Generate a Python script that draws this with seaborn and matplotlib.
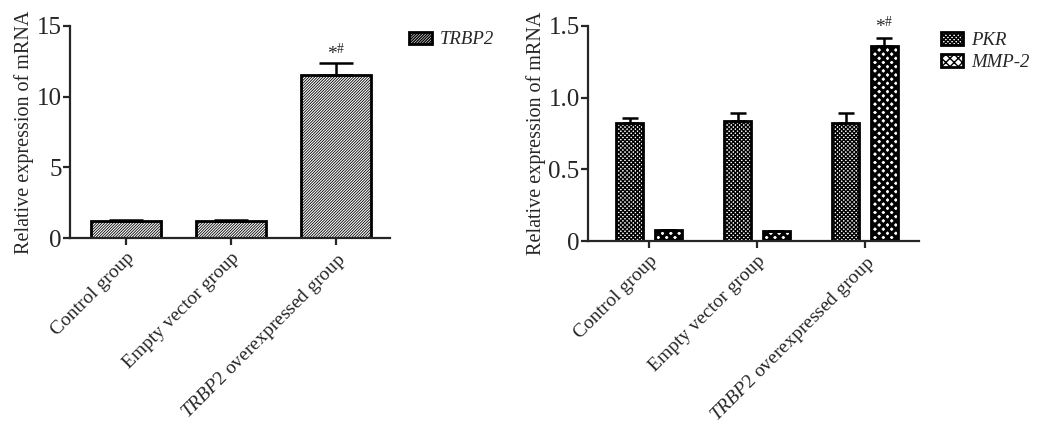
import matplotlib
matplotlib.use("Agg")
import numpy as np
import pandas as pd
import matplotlib.pyplot as plt
import seaborn as sns

groups = ["Control group", "Empty vector group", "TRBP2 overexpressed group"]
group_labels = ["Control group", "Empty vector group",
                r"$\mathit{TRBP2}$ overexpressed group"]

trbp2_vals = [1.2, 1.2, 11.55]
trbp2_err = [0.08, 0.08, 0.85]

pkr_vals = [0.82, 0.835, 0.82]
pkr_err = [0.04, 0.055, 0.075]
mmp2_vals = [0.075, 0.068, 1.36]
mmp2_err = [0.004, 0.004, 0.055]

sns.set_style("ticks")
plt.rcParams["font.family"] = ["Liberation Serif", "DejaVu Serif"]
plt.rcParams["mathtext.fontset"] = "custom"
plt.rcParams["mathtext.rm"] = "Liberation Serif"
plt.rcParams["mathtext.it"] = "Liberation Serif:italic"
plt.rcParams["axes.linewidth"] = 1.6
plt.rcParams["xtick.major.width"] = 1.6
plt.rcParams["ytick.major.width"] = 1.6
plt.rcParams["xtick.major.size"] = 5
plt.rcParams["ytick.major.size"] = 5

fig = plt.figure(figsize=(10.41, 4.29), dpi=100)
ax1 = fig.add_axes([0.0672, 0.4452, 0.3074, 0.4942])
ax2 = fig.add_axes([0.5648, 0.4382, 0.3180, 0.5012])

df1 = pd.DataFrame({"group": groups, "value": trbp2_vals, "gene": "TRBP2"})
df2 = pd.DataFrame({
    "group": groups * 2,
    "value": pkr_vals + mmp2_vals,
    "gene": ["PKR"] * 3 + ["MMP-2"] * 3,
})


def add_errors(ax, container, errs, capsize):
    xs = [p.get_x() + p.get_width() / 2 for p in container.patches]
    ys = [p.get_height() for p in container.patches]
    ax.errorbar(xs, ys, yerr=[np.zeros(len(errs)), errs], fmt="none",
                ecolor="black", elinewidth=1.8, capsize=capsize, capthick=1.8)
    return xs, ys


leg_kw = dict(loc="center left", frameon=False, borderaxespad=0, borderpad=0,
              handlelength=1.2, handleheight=0.65, handletextpad=0.45,
              prop={"style": "italic", "size": 13.5})

# left panel
with plt.rc_context({"hatch.linewidth": 0.6}):
    sns.barplot(data=df1, x="group", y="value", hue="gene", palette=["white"],
                edgecolor="black", linewidth=2.0, width=0.66, errorbar=None,
                legend=False, ax=ax1)
    for p in ax1.patches:
        p.set_hatch("////////////")
xs, ys = add_errors(ax1, ax1.containers[0], trbp2_err, 12)
ax1.text(xs[2], ys[2] + trbp2_err[2] + 0.1, r"*$^{\#}$", ha="center",
         va="bottom", fontsize=14)
ax1.set_ylim(0, 15)
ax1.set_yticks([0, 5, 10, 15])
ax1.set_xlim(-0.533, 2.514)
ax1.legend(handles=ax1.containers, labels=["TRBP2"],
           bbox_to_anchor=(1.06, 0.934), **leg_kw)

# right panel
with plt.rc_context({"hatch.linewidth": 1.0}):
    sns.barplot(data=df2, x="group", y="value", hue="gene",
                palette=["white", "white"], edgecolor="black", linewidth=2.0,
                width=0.72, gap=0.3, errorbar=None, legend=False, ax=ax2)
    for p in ax2.containers[0].patches:
        p.set_hatch("xxxxxxxx")
for p in ax2.containers[1].patches:
    p.set_hatch("xxxx")
    if hasattr(p, "set_hatch_linewidth"):
        p.set_hatch_linewidth(2.2)
add_errors(ax2, ax2.containers[0], pkr_err, 5.5)
xs, ys = add_errors(ax2, ax2.containers[1], mmp2_err, 5.5)
ax2.text(xs[2], ys[2] + mmp2_err[2] + 0.03, r"*$^{\#}$", ha="center",
         va="bottom", fontsize=14)
ax2.set_ylim(0, 1.5)
ax2.set_yticks([0, 0.5, 1.0, 1.5])
ax2.set_yticklabels(["0", "0.5", "1.0", "1.5"])
ax2.set_xlim(-0.565, 2.5)
ax2.legend(handles=ax2.containers, labels=["PKR", "MMP-2"],
           bbox_to_anchor=(1.065, 0.881), labelspacing=0.25, **leg_kw)

for ax in (ax1, ax2):
    sns.despine(ax=ax)
    ax.set_xlabel("")
    ax.set_ylabel("Relative expression of mRNA", fontsize=14.5, labelpad=2)
    ax.set_xticks(range(3))
    ax.set_xticklabels(group_labels, rotation=45, ha="right",
                       rotation_mode="anchor", fontsize=14)
    ax.tick_params(axis="x", labelsize=14, pad=3)
    ax.tick_params(axis="y", labelsize=18, pad=1)

fig.savefig("out.png", dpi=100)
